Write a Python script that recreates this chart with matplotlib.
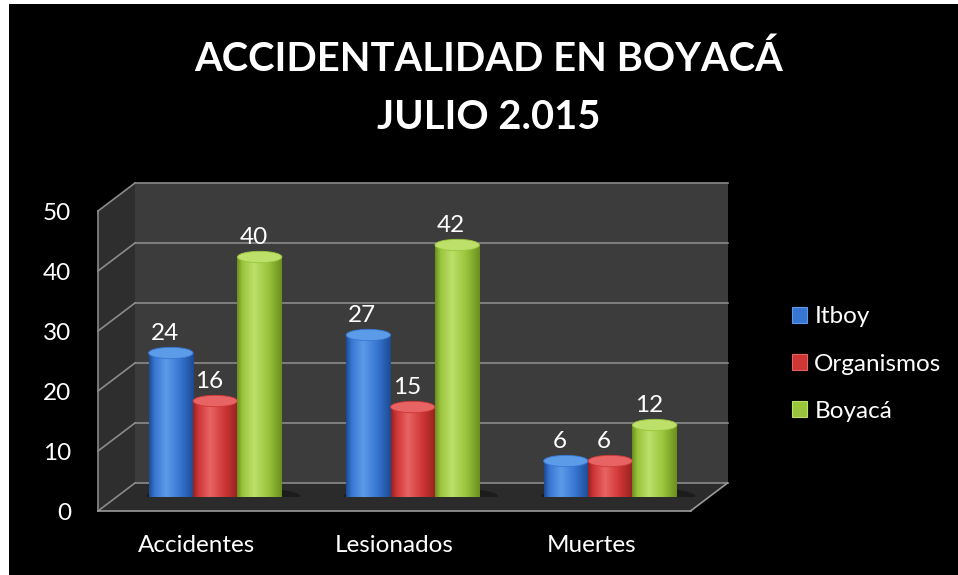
import numpy as np
import matplotlib
matplotlib.use("Agg")
import matplotlib.pyplot as plt
from matplotlib.patches import Polygon, Ellipse, Rectangle, Patch
from matplotlib.transforms import IdentityTransform, offset_copy
from matplotlib.colors import LinearSegmentedColormap

plt.rcParams['font.family'] = ['Lato', 'DejaVu Sans']

# ---------------- data ----------------
title_line1 = "ACCIDENTALIDAD EN BOYACÁ"
title_line2 = "JULIO 2.015"
categories = ["Accidentes", "Lesionados", "Muertes"]
series_names = ["Itboy", "Organismos", "Boyacá"]
itboy = [24, 27, 6]
organismos = [16, 15, 6]
boyaca = [40, 42, 12]
y_ticks = [0, 10, 20, 30, 40, 50]

series_values = [itboy, organismos, boyaca]
series_colors = [  # dark, mid, light
    ("#1d4a92", "#3676d2", "#5c9be8"),
    ("#962222", "#cf3636", "#e86464"),
    ("#6b8f1e", "#9ac43c", "#bde06a"),
]

W, H = 958, 575
FS = 17.5
fig = plt.figure(figsize=(W / 100, H / 100), dpi=100)
fig.patch.set_facecolor("white")
fig.patches.append(Rectangle((9 / W, 0), 1 - 9 / W, 1 - 4 / H, transform=fig.transFigure,
                             facecolor="black", edgecolor="none", zorder=-10))

def fx(px):
    return px / W

def fy(py):
    return 1 - py / H

# middle-depth plane of the 3D box
left_px, right_px, top_px, bot_px = 116.5, 709.0, 197.0, 497.0
ax = fig.add_axes([fx(left_px), fy(bot_px), fx(right_px - left_px), (bot_px - top_px) / H])
ax.set_xlim(-0.5, len(categories) - 0.5)
ax.set_ylim(0, 50)
ax.axis("off")

DX, DY = 18.5, 14.0  # half depth offset in pixels
xmin, xmax = ax.get_xlim()
ymax = y_ticks[-1]

def P(x, y, d):
    X, Y = ax.transData.transform((x, y))
    return (X + d * DX, Y + d * DY)

def poly(pts, color, z):
    p = Polygon(pts, closed=True, facecolor=color, edgecolor="none",
                transform=IdentityTransform(), zorder=z, clip_on=False)
    ax.add_artist(p)

def line(a, b, color="#8a8a8a", lw=1.2, z=1):
    ax.add_artist(plt.Line2D([a[0], b[0]], [a[1], b[1]], color=color, lw=lw,
                             transform=IdentityTransform(), zorder=z, clip_on=False))

# walls
poly([P(xmin, 0, 1), P(xmax, 0, 1), P(xmax, ymax, 1), P(xmin, ymax, 1)], "#3c3c3c", 0)
poly([P(xmin, 0, -1), P(xmin, ymax, -1), P(xmin, ymax, 1), P(xmin, 0, 1)], "#2e2e2e", 0)
poly([P(xmin, 0, -1), P(xmax, 0, -1), P(xmax, 0, 1), P(xmin, 0, 1)], "#2b2b2b", 0)

for t in y_ticks:
    line(P(xmin, t, 1), P(xmax, t, 1))
    line(P(xmin, t, -1), P(xmin, t, 1))
line(P(xmin, 0, -1), P(xmin, ymax, -1))
line(P(xmin, 0, -1), P(xmax, 0, -1), color="#9a9a9a")
line(P(xmax, 0, -1), P(xmax, 0, 1), color="#9a9a9a")

# tick labels on front plane
tick_tr = offset_copy(ax.transData, fig=fig, x=-DX - 27, y=-DY - 3, units="dots")
for t in y_ticks:
    ax.text(xmin, t, str(t), transform=tick_tr, ha="right", va="center",
            color="white", fontsize=FS, clip_on=False)

cat_tr = offset_copy(ax.transData, fig=fig, x=-DX, y=-DY - 34, units="dots")
for i, c in enumerate(categories):
    ax.text(i, 0, c, transform=cat_tr, ha="center", va="center", color="white",
            fontsize=FS, clip_on=False)

# shadows on floor
for i in range(len(categories)):
    ax.add_patch(Ellipse((i + 0.04, 0.2), 0.78, 3.0, facecolor="black", alpha=0.35,
                         edgecolor="none", zorder=2))

# cylinders
bw = 0.225
offsets = [-bw, 0, bw]
eh = 1.9  # ellipse height in data units
grad = np.linspace(0, 1, 128)[None, :]
x = np.arange(len(categories))
lab_tr = offset_copy(ax.transData, fig=fig, x=-6, y=19, units="dots")
for s, (vals, cols) in enumerate(zip(series_values, series_colors)):
    dark, mid, light = cols
    cmap = LinearSegmentedColormap.from_list(
        "c%d" % s, [(0, dark), (0.12, mid), (0.38, light), (0.7, mid), (1.0, dark)])
    bars = ax.bar(x + offsets[s], vals, bw, color=mid, edgecolor="none", zorder=3 + s)
    for b, v in zip(bars, vals):
        x0 = b.get_x()
        xc = x0 + bw / 2
        bot = Ellipse((xc, 0), bw, eh, facecolor="none", edgecolor="none")
        ax.add_patch(bot)
        im = ax.imshow(grad, cmap=cmap, extent=[x0, x0 + bw, -eh / 2, v], aspect="auto",
                       zorder=3 + s, interpolation="bilinear")
        im.set_clip_path(bot)
        im2 = ax.imshow(grad, cmap=cmap, extent=[x0, x0 + bw, 0, v], aspect="auto",
                        zorder=3 + s, interpolation="bilinear")
        im2.set_clip_path(b)
        top = Ellipse((xc, v), bw, eh, facecolor=light, edgecolor=mid, lw=0.6,
                      zorder=3.5 + s)
        ax.add_patch(top)
        ax.text(xc, v, str(v), transform=lab_tr, ha="center", va="center",
                color="white", fontsize=FS, zorder=10)

ax.set_xlim(xmin, xmax)
ax.set_ylim(0, 50)

# title
fig.text(fx(489), fy(71), title_line1, ha="center", va="baseline", color="white",
         fontsize=28.7, fontweight="bold")
fig.text(fx(489), fy(129), title_line2, ha="center", va="baseline", color="white",
         fontsize=28.7, fontweight="bold")

# legend
handles = [Patch(facecolor=c[1], edgecolor=c[2], lw=0.8) for c in series_colors]
leg = fig.legend(handles, series_names, loc="center left",
                 bbox_to_anchor=(fx(792), fy(364)), frameon=False, fontsize=FS,
                 handlelength=0.62, handleheight=0.62, handletextpad=0.3,
                 labelspacing=1.07, borderpad=0, borderaxespad=0)
for t in leg.get_texts():
    t.set_color("white")

fig.savefig("out.png", dpi=100, facecolor=fig.get_facecolor())
